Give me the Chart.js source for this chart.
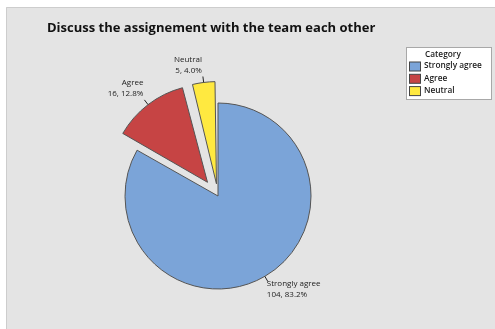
<!DOCTYPE html>
<html>
<head>
<meta charset="utf-8">
<script src="https://cdn.jsdelivr.net/npm/chart.js@4/dist/chart.umd.min.js"></script>
<style>
  html, body { margin: 0; padding: 0; background: #fff; }
</style>
</head>
<body>
<canvas id="pieChart" width="495" height="329"></canvas>
<script>
const categories = ['Strongly agree', 'Agree', 'Neutral'];
const counts = [104, 16, 5];
const sliceColors = ['#7ba4d8', '#c64444', '#ffe940'];
const explode = [0, 69, 49];
const chartTitle = 'Discuss the assignement with the team each other';
const legendTitle = 'Category';

const total = counts.reduce((a, b) => a + b, 0);
const FONT = '"Open Sans", "Noto Sans", sans-serif';

// grey panel behind everything
const panelBackground = {
    id: 'panelBackground',
    beforeDraw(chart) {
        const ctx = chart.ctx;
        ctx.save();
        ctx.fillStyle = '#ffffff';
        ctx.fillRect(0, 0, chart.width, chart.height);
        ctx.fillStyle = '#e4e4e4';
        ctx.fillRect(6, 7, chart.width - 6, chart.height - 7);
        ctx.strokeStyle = '#cdcdcd';
        ctx.lineWidth = 1;
        ctx.beginPath();
        ctx.moveTo(6.5, chart.height);
        ctx.lineTo(6.5, 7.5);
        ctx.lineTo(chart.width, 7.5);
        ctx.stroke();
        ctx.restore();
    }
};

// title and the boxed legend on the right
const titleAndLegend = {
    id: 'titleAndLegend',
    afterDraw(chart) {
        const ctx = chart.ctx;
        ctx.save();
        ctx.fillStyle = '#111';
        ctx.font = 'bold 13px ' + FONT;
        ctx.textBaseline = 'middle';
        ctx.textAlign = 'left';
        ctx.fillText(chartTitle, 47, 28);

        ctx.fillStyle = '#ffffff';
        ctx.fillRect(406, 47, 85, 52);
        ctx.strokeStyle = '#a8a8a8';
        ctx.strokeRect(406.5, 47.5, 85, 52);

        ctx.fillStyle = '#1a1a1a';
        ctx.font = '600 8.3px ' + FONT;
        ctx.fillText(legendTitle, 425, 55);
        categories.forEach((name, i) => {
            const y = 66 + i * 12.3;
            ctx.fillStyle = sliceColors[i];
            ctx.fillRect(409.5, y - 4, 11, 9);
            ctx.strokeStyle = '#444';
            ctx.strokeRect(409.5, y - 4, 11, 9);
            ctx.fillStyle = '#1a1a1a';
            ctx.fillText(name, 424, y);
        });
        ctx.restore();
    }
};

// slice labels with short leader lines
const sliceLabels = {
    id: 'sliceLabels',
    afterDatasetsDraw(chart) {
        const ctx = chart.ctx;
        const meta = chart.getDatasetMeta(0);
        ctx.save();
        ctx.font = '8px ' + FONT;
        ctx.fillStyle = '#222';
        ctx.strokeStyle = '#222';
        ctx.lineWidth = 1;
        meta.data.forEach((arc, i) => {
            const mid = (arc.startAngle + arc.endAngle) / 2;
            const off = (arc.options.offset || 0) / 4;
            const shift = off * (2 - Math.sin(Math.min(Math.PI, arc.circumference)));
            const dx = Math.cos(mid), dy = Math.sin(mid);
            const r = arc.outerRadius + shift;
            const ex = arc.x + dx * r, ey = arc.y + dy * r;
            const lx = ex + dx * 6, ly = ey + dy * 6;
            ctx.beginPath();
            ctx.moveTo(ex, ey);
            ctx.lineTo(lx, ly);
            ctx.stroke();

            const lines = [categories[i], counts[i] + ', ' + (counts[i] / total * 100).toFixed(1) + '%'];
            ctx.textBaseline = 'middle';
            ctx.textAlign = dx < 0 ? 'right' : 'left';
            const tx = lx - 1;
            const y0 = dy < 0 ? ly - 6 - 11 : ly + 2;
            lines.forEach((t, k) => ctx.fillText(t, tx, y0 + k * 11));
        });
        ctx.restore();
    }
};

new Chart(document.getElementById('pieChart'), {
    type: 'pie',
    data: {
        labels: categories,
        datasets: [{
            data: counts,
            backgroundColor: sliceColors,
            borderColor: '#555',
            borderWidth: 1,
            offset: explode,
            hoverOffset: 0,
            radius: 93
        }]
    },
    options: {
        responsive: false,
        animation: false,
        events: [],
        layout: { padding: { left: 100, right: 159, top: 120, bottom: 57 } },
        plugins: {
            legend: { display: false },
            title: { display: false },
            tooltip: { enabled: false }
        }
    },
    plugins: [panelBackground, sliceLabels, titleAndLegend]
});
</script>
</body>
</html>
